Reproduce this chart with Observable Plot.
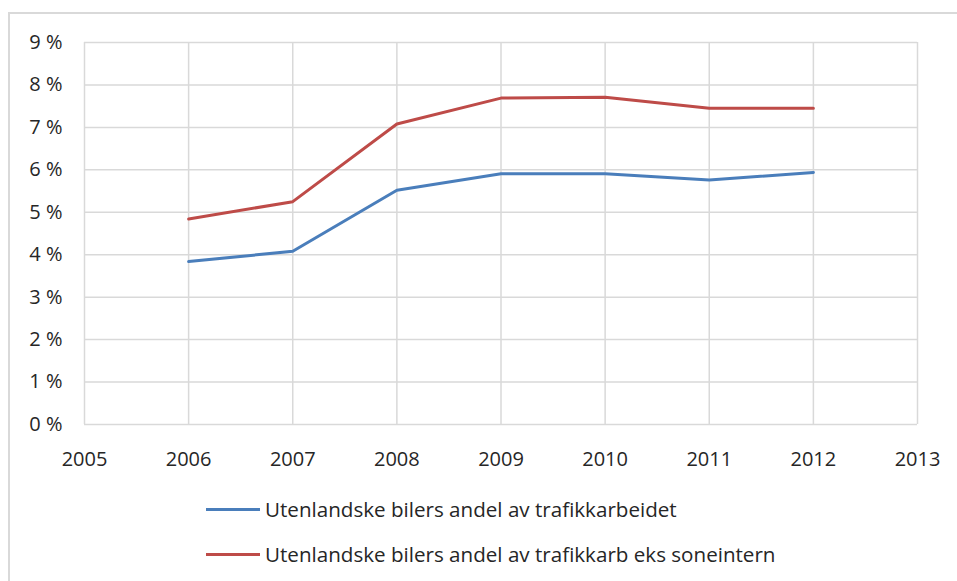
<!DOCTYPE html>
<html>
<head>
<meta charset="utf-8">
<script src="https://cdn.jsdelivr.net/npm/d3@7"></script>
<script src="https://cdn.jsdelivr.net/npm/@observablehq/plot@0.6"></script>
<style>
  html, body { margin: 0; padding: 0; background: #fff; }
  #wrap { position: relative; width: 957px; height: 581px; overflow: hidden; font-family: "Open Sans", sans-serif; }
  #frame { position: absolute; left: 8px; top: 12px; width: 960px; height: 580px; border: 2px solid #d9d9d9; box-sizing: border-box; }
  #chart { position: absolute; left: 0; top: 0; }
  .leg { position: absolute; left: 206px; display: flex; align-items: center; font-size: 20.6px; color: #262626; white-space: nowrap; }
  .leg .sw { width: 54px; height: 3px; margin-right: 5px; }
</style>
</head>
<body>
<div id="wrap">
  <div id="frame"></div>
  <div id="chart"></div>
  <div id="legend"></div>
</div>
<script>
const years = [2006, 2007, 2008, 2009, 2010, 2011, 2012];
const blueValues = [3.84, 4.08, 5.52, 5.91, 5.91, 5.76, 5.94];
const redValues = [4.84, 5.25, 7.08, 7.69, 7.71, 7.45, 7.45];
const seriesNames = [
  "Utenlandske bilers andel av trafikkarbeidet",
  "Utenlandske bilers andel av trafikkarb eks soneintern"
];
const seriesColors = ["#4a7ebb", "#be4b48"];
const xTicks = [2005, 2006, 2007, 2008, 2009, 2010, 2011, 2012, 2013];
const yTicks = [0, 1, 2, 3, 4, 5, 6, 7, 8, 9];

const data = [
  ...years.map((y, i) => ({year: y, value: blueValues[i], series: seriesNames[0]})),
  ...years.map((y, i) => ({year: y, value: redValues[i], series: seriesNames[1]}))
];

const chart = Plot.plot({
  width: 957,
  height: 480,
  marginLeft: 84,
  marginRight: 40,
  marginTop: 42,
  marginBottom: 56,
  style: {fontFamily: "'Open Sans', sans-serif", fontSize: "20px", color: "#262626", background: "transparent", overflow: "visible"},
  x: {domain: [2005, 2013], ticks: xTicks, tickFormat: d => String(d), label: null},
  y: {domain: [0, 9], ticks: yTicks, tickFormat: d => `${d} %`, label: null},
  color: {domain: seriesNames, range: seriesColors},
  marks: [
    Plot.gridX(xTicks, {stroke: "#d9d9d9", strokeOpacity: 1, strokeWidth: 1.5}),
    Plot.gridY(yTicks, {stroke: "#d9d9d9", strokeOpacity: 1, strokeWidth: 1.5}),
    Plot.axisX({ticks: xTicks, tickFormat: d => String(d), tickSize: 0, tickPadding: 27, fontSize: 20, label: null}),
    Plot.axisY({ticks: yTicks, tickFormat: d => `${d} %`, tickSize: 0, tickPadding: 22, fontSize: 20, label: null}),
    Plot.line(data, {x: "year", y: "value", stroke: "series", strokeWidth: 3, strokeLinejoin: "round", strokeLinecap: "round"})
  ]
});
document.getElementById("chart").appendChild(chart);

const legend = document.getElementById("legend");
const legendTops = [509, 554];
seriesNames.forEach((name, i) => {
  const row = document.createElement("div");
  row.className = "leg";
  row.style.top = (legendTops[i] - 14) + "px";
  row.style.height = "28px";
  const sw = document.createElement("div");
  sw.className = "sw";
  sw.style.background = seriesColors[i];
  const t = document.createElement("span");
  t.textContent = name;
  row.appendChild(sw);
  row.appendChild(t);
  legend.appendChild(row);
});
</script>
</body>
</html>
